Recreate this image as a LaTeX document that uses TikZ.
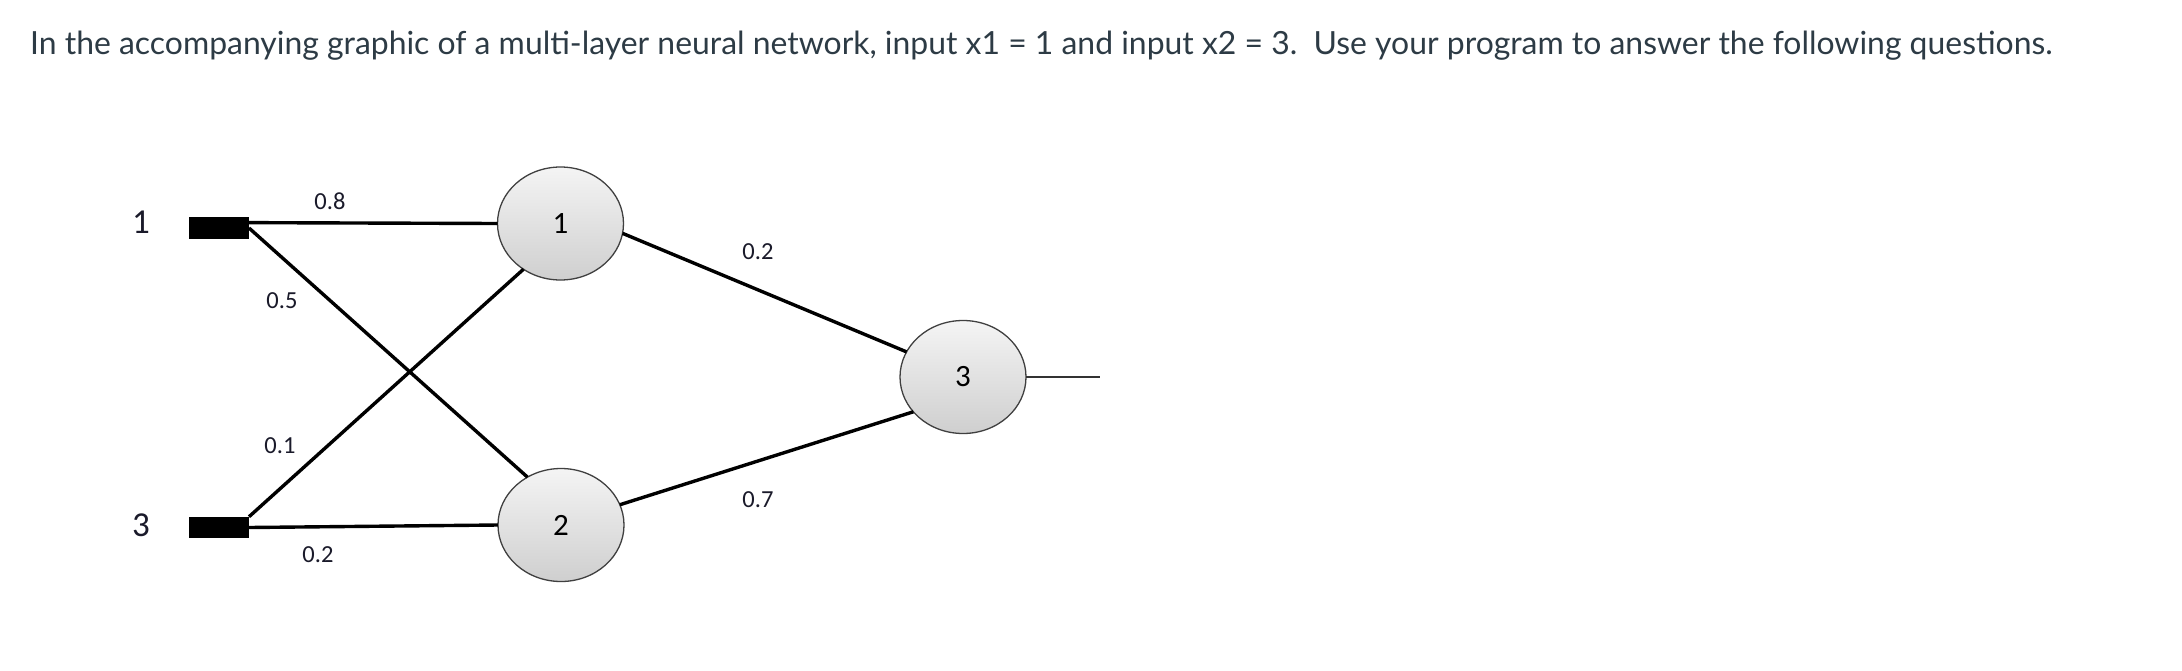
\documentclass[tikz,border=0pt]{standalone}
\usepackage{fontspec}
\usetikzlibrary{shapes.geometric,calc}
\newfontfamily\latofont{Lato}
\newfontfamily\calfont{Carlito}
\definecolor{titlecol}{HTML}{2D3B45}
\definecolor{nodetop}{HTML}{F4F4F4}
\definecolor{nodebot}{HTML}{CFCFCF}
\definecolor{nodeborder}{HTML}{404040}
\definecolor{labcol}{HTML}{1A1A2A}
\tikzset{
  neuron/.style={ellipse, draw=nodeborder, line width=1.3pt, top color=nodetop, bottom color=nodebot,
    minimum width=126pt, minimum height=113pt, inner sep=0pt, outer sep=0pt,
    font=\calfont\fontsize{31}{31}\selectfont, text=black},
  inbox/.style={rectangle, fill=black, draw=none, minimum width=60pt, minimum height=21.5pt, inner sep=0pt, outer sep=0pt},
  conn/.style={line width=3.4pt, black},
  outconn/.style={line width=1.3pt, black!80},
  wlabel/.style={font=\calfont\fontsize{24.5}{24.5}\selectfont, text=labcol, inner sep=0pt},
  inlabel/.style={font=\calfont\fontsize{35}{35}\selectfont, text=labcol, inner sep=0pt}
}
\begin{document}
\begin{tikzpicture}[x=1pt,y=-1pt]
\fill[white] (0,0) rectangle (2182,670);
\useasboundingbox (0,0) rectangle (2182,670);
\node[anchor=base west, inner sep=0pt, text=titlecol, font=\latofont\fontsize{31.9}{32}\selectfont] (title) at (30,54)
  {In the accompanying graphic of a multi-layer neural network, input x1 = 1 and input x2 = 3.\ \ Use your program to answer the following questions.};
% inputs
\node[inbox] (s1) at (219,228) {};
\node[inbox] (s3) at (219,527.5) {};
\node[inlabel] (l1) at (141,222) {1};
\node[inlabel] (l3) at (141,525) {3};
% neurons
\node[neuron] (n1) at (560.5,223.5) {1};
\node[neuron] (n2) at (561,525) {2};
\node[neuron] (n3) at (963,377) {3};
\coordinate (out) at (1100,377);
% connections
\draw[conn] ($(s1.east)!0.5!(s1.north east)$) -- (n1.west);
\draw[conn] (s1.east) -- (n2.125);
\draw[conn] (s3.north east) -- (n1.231);
\draw[conn] (s3.east) -- (n2.west);
\draw[conn] (n1.-9) -- (n3.156);
\draw[conn] (n2.19.6) -- (n3.215);
\draw[outconn] (n3.east) -- (out);
% weights
\node[wlabel] (w08) at (330,201) {0.8};
\node[wlabel] (w05) at (282,301) {0.5};
\node[wlabel] (w01) at (280,446) {0.1};
\node[wlabel] (w02a) at (318,555) {0.2};
\node[wlabel] (w02b) at (758,252) {0.2};
\node[wlabel] (w07) at (758,500) {0.7};
\end{tikzpicture}
\end{document}
